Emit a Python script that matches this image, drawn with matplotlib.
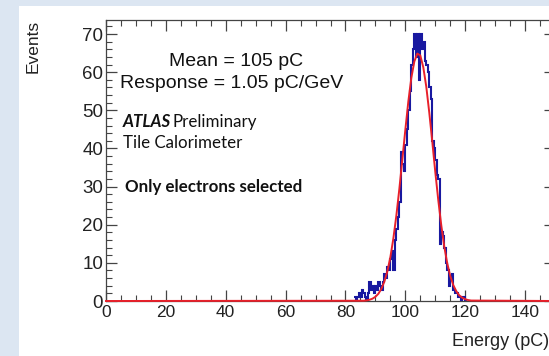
import numpy as np
import matplotlib.pyplot as plt
from matplotlib.patches import Rectangle
from matplotlib.ticker import MultipleLocator

# histogram: 0.5 pC bins starting at 83 pC
bin_lo = 83.0
bin_width = 0.5
counts = [1, 0, 1, 2, 1, 3, 2, 1, 0, 2,
          5, 3, 4, 2, 4, 3, 5, 4, 3, 5,
          7, 6, 9, 8, 11, 13, 8, 16, 19, 22,
          26, 39, 36, 34, 41, 45, 50, 55, 62, 66,
          70, 64, 70, 58, 70, 66, 68, 63, 62, 60,
          56, 53, 42, 40, 37, 33, 32, 15, 18, 17,
          14, 10, 8, 4, 6, 7, 3, 2, 2, 1,
          1, 0, 1, 1, 0]

# gaussian fit
fit_x = [0, 86, 87, 88, 89, 90, 91, 92, 93, 94, 95, 96, 97, 98, 99, 100,
         101, 102, 103, 104, 105, 106, 107, 108, 109, 110, 111, 112,
         113, 114, 115, 116, 117, 118, 119, 120, 121, 122, 150]
fit_y = [0, 0.07, 0.15, 0.32, 0.6, 1.1, 1.9, 3.2, 5.1, 7.8, 11.5, 16.4,
         22.4, 29.4, 37.1, 44.9, 52.3, 58.5, 62.8, 64.9, 64.4, 61.3, 56.2,
         49.4, 41.8, 33.9, 26.5, 19.9, 14.3, 9.9, 6.6, 4.2, 2.6, 1.5, 0.86,
         0.47, 0.24, 0.12, 0]

x_ticks = [0, 20, 40, 60, 80, 100, 120, 140]
y_ticks = [0, 10, 20, 30, 40, 50, 60, 70]

edges = bin_lo + bin_width * np.arange(len(counts) + 1)

W, H = 549, 356
fig = plt.figure(figsize=(W / 100, H / 100), dpi=100)
fig.patch.set_facecolor('#dce6f2')
fig.patches.append(Rectangle((19 / W, 0), 1, 1 - 6 / H, transform=fig.transFigure,
                             facecolor='white', edgecolor='none', zorder=-5))

ax = fig.add_axes([106 / W, 55 / H, 449 / W, 281 / H])
ax.set_facecolor('none')
ax.set_zorder(2)

ax.stairs(counts, edges, color='#1818a0', lw=1.5, baseline=None, zorder=3)
ax.plot(fit_x, fit_y, color='#e8202a', lw=1.4, zorder=4, clip_on=False)

ax.set_xlim(0, 150)
ax.set_ylim(0, 73.7)
ax.set_xticks(x_ticks)
ax.set_yticks(y_ticks)
ax.xaxis.set_minor_locator(MultipleLocator(5))
ax.yaxis.set_minor_locator(MultipleLocator(2))
ax.tick_params(which='both', direction='in', top=True, right=True,
               color='#444444', labelcolor='#222222',
               labelfontfamily='Liberation Sans')
ax.tick_params(which='major', length=8, width=0.9)
ax.tick_params(which='minor', length=4, width=0.8)
ax.tick_params(axis='x', pad=3, labelsize=12.5)
ax.tick_params(axis='y', pad=2, labelsize=13.5)
for s in ax.spines.values():
    s.set_color('#444444')
    s.set_linewidth(0.9)

fig.text(33 / W, 1 - 20 / H, 'Events', rotation=90, ha='center', va='top',
         fontsize=12.5, family='Liberation Sans', color='#222222')
fig.text(549 / W, 1 - 346 / H, 'Energy (pC)', ha='right', va='baseline',
         fontsize=13, family='Liberation Sans', color='#222222')

fig.text(236 / W, 1 - 61 / H, 'Mean = 105 pC', ha='center', va='center',
         fontsize=14, family='Liberation Sans', color='#111111')
fig.text(232 / W, 1 - 83 / H, 'Response = 1.05 pC/GeV', ha='center', va='center',
         fontsize=14, family='Liberation Sans', color='#111111')

fig.text(123 / W, 1 - 122 / H, 'ATLAS', ha='left', va='center', fontsize=12.2,
         family='Lato', weight='bold', style='italic', color='#111111')
fig.text(173 / W, 1 - 122 / H, 'Preliminary', ha='left', va='center', fontsize=12.2,
         family='Lato', color='#111111')
fig.text(123 / W, 1 - 143 / H, 'Tile Calorimeter', ha='left', va='center',
         fontsize=12.2, family='Lato', color='#111111')
fig.text(125 / W, 1 - 187 / H, 'Only electrons selected', ha='left', va='center',
         fontsize=12.2, family='Lato', weight='bold', color='#111111')

fig.savefig('out.png', dpi=100)
